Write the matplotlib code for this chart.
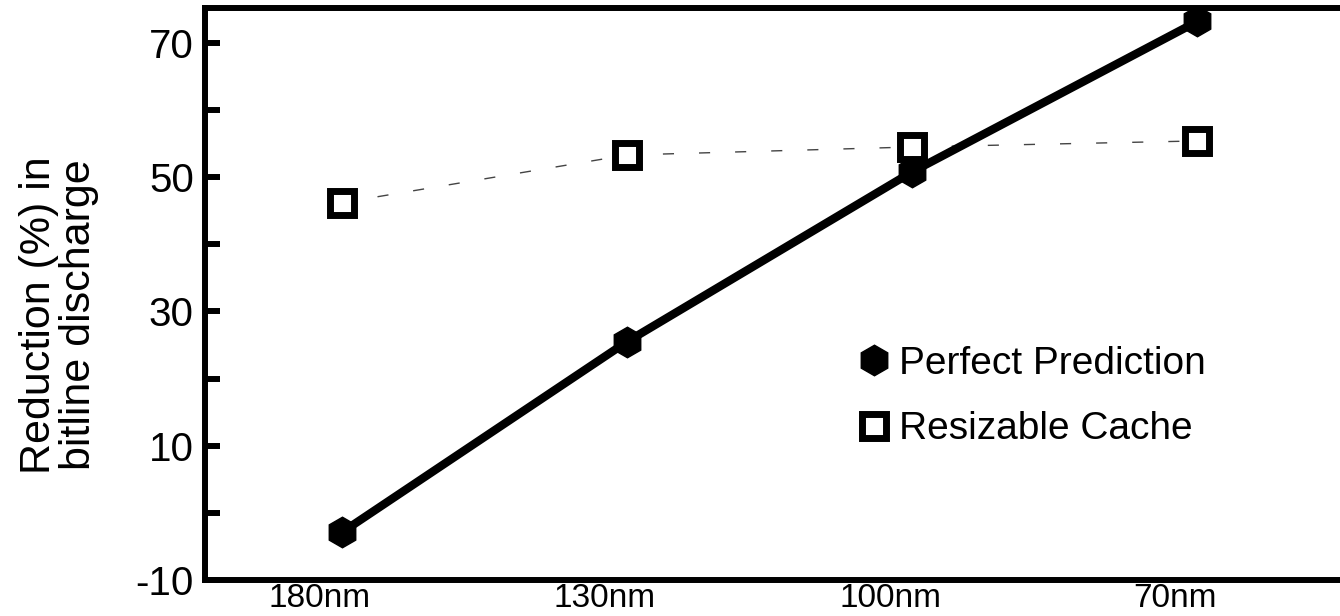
import matplotlib
matplotlib.use("Agg")
import matplotlib.pyplot as plt
from matplotlib.lines import Line2D
from matplotlib.ticker import FuncFormatter
import matplotlib.transforms as mtransforms

plt.rcParams['font.family'] = ['Liberation Sans', 'DejaVu Sans']

categories = ["180nm", "130nm", "100nm", "70nm"]
perfect_prediction = [-2.9, 25.5, 50.8, 73.2]
resizable_cache = [46.2, 53.3, 54.5, 55.4]
y_ticks = [-10, 0, 10, 20, 30, 40, 50, 60, 70]
y_labeled = [-10, 10, 30, 50, 70]

W, H = 1340, 616
fig = plt.figure(figsize=(W / 100, H / 100), dpi=100)
ax = fig.add_axes([205 / W, 1 - 580 / H, 1 - 205 / W, (580 - 8) / H])

x = list(range(len(categories)))

ax.plot(x, resizable_cache, color='#444444', lw=1.0, linestyle=(0, (8, 18)),
        marker='s', ms=17, mfc='white', mec='black', mew=5, zorder=3)
ax.plot(x, perfect_prediction, color='black', lw=6, solid_capstyle='butt',
        marker='h', ms=22, mfc='black', mec='black', zorder=4)

ax.set_xlim(-0.48, 3.5)
ax.set_ylim(-10, 75.2)

for s in ['left', 'bottom', 'top']:
    ax.spines[s].set_linewidth(4.3)
    ax.spines[s].set_zorder(5)
ax.spines['right'].set_visible(False)

ax.set_yticks(y_ticks)
ax.yaxis.set_major_formatter(FuncFormatter(lambda v, p: f"{int(v)}" if int(v) in y_labeled else ""))
ax.tick_params(axis='y', direction='in', length=11, width=4.3, labelsize=29, pad=8)

ax.set_xticks(x)
ax.set_xticklabels(categories)
ax.tick_params(axis='x', length=0, labelsize=24, pad=2)
offset = mtransforms.ScaledTranslation(-22 / 100, 0, fig.dpi_scale_trans)
for lab in ax.get_xticklabels():
    lab.set_transform(lab.get_transform() + offset)

fig.text(59 / W, 1 - 315 / H, "Reduction (%) in\nbitline discharge", rotation=90,
         ha='center', va='center', multialignment='center', fontsize=31, linespacing=1.0)

handles = [
    Line2D([], [], color='black', lw=0, marker='h', ms=22, mfc='black', mec='black'),
    Line2D([], [], color='black', lw=0, marker='s', ms=17, mfc='white', mec='black', mew=5),
]
ax.legend(handles, ["Perfect Prediction", "Resizable Cache"], loc='upper left',
          bbox_to_anchor=(862 / W, 1 - 346 / H), bbox_transform=fig.transFigure,
          frameon=False, fontsize=28, handlelength=0.6, handletextpad=0.35,
          labelspacing=0.75, borderaxespad=0, borderpad=0)

fig.savefig("out.png", dpi=100)
